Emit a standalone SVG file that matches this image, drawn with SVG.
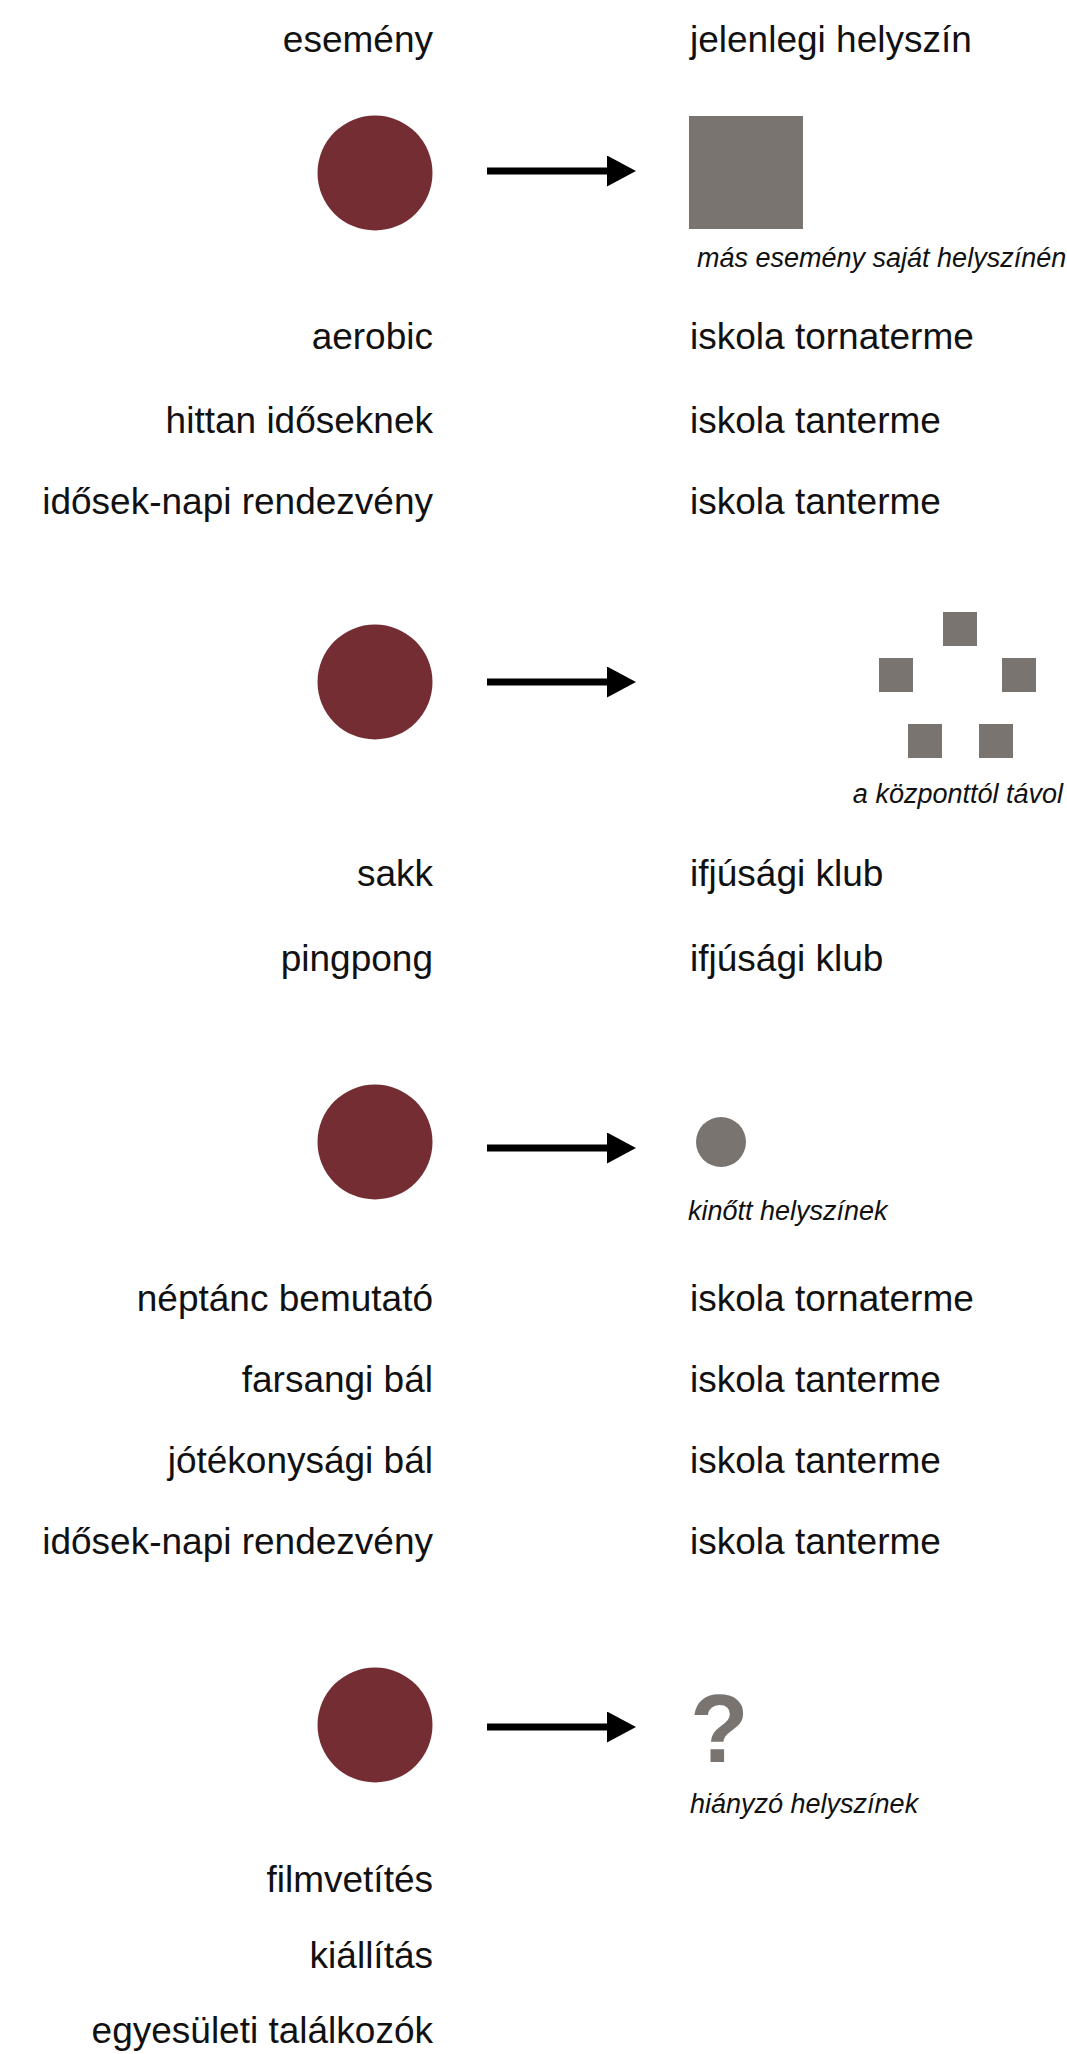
<svg xmlns="http://www.w3.org/2000/svg" width="1067" height="2054" viewBox="0 0 1067 2054">
<style>
.t{font-family:"Liberation Sans",Arial,sans-serif;font-size:37px;fill:#111}
.l{text-anchor:end}
.c{font-family:"Liberation Sans",Arial,sans-serif;font-size:27px;font-style:italic;fill:#111}
.ev{fill:#742e33}
.pl{fill:#7a7471}
.ar{stroke:#000;stroke-width:7;fill:none}
</style>
<defs>
<marker id="ah" viewBox="0 0 29 31" refX="0" refY="15.5" markerWidth="29" markerHeight="31" markerUnits="userSpaceOnUse" orient="auto">
<path d="M0,0 L29,15.5 L0,31 z" fill="#000"/>
</marker>
</defs>
<rect width="1067" height="2054" fill="#fff"/>
<g id="headers">
<text class="t l" x="433" y="52">esemény</text>
<text class="t" x="690" y="52">jelenlegi helyszín</text>
</g>
<g id="connectors">
<line class="ar" x1="487" y1="171" x2="607" y2="171" marker-end="url(#ah)"/>
<line class="ar" x1="487" y1="682" x2="607" y2="682" marker-end="url(#ah)"/>
<line class="ar" x1="487" y1="1148" x2="607" y2="1148" marker-end="url(#ah)"/>
<line class="ar" x1="487" y1="1727" x2="607" y2="1727" marker-end="url(#ah)"/>
</g>
<g id="section1">
<g id="event1"><circle class="ev" cx="375" cy="173" r="57.5"/></g>
<g id="place1"><rect class="pl" x="689" y="116" width="114" height="113"/>
<text class="c" x="697" y="267">más esemény saját helyszínén</text></g>
<text class="t l" x="433" y="349">aerobic</text>
<text class="t" x="690" y="349">iskola tornaterme</text>
<text class="t l" x="433" y="433">hittan időseknek</text>
<text class="t" x="690" y="433">iskola tanterme</text>
<text class="t l" x="433" y="514">idősek-napi rendezvény</text>
<text class="t" x="690" y="514">iskola tanterme</text>
</g>
<g id="section2">
<g id="event2"><circle class="ev" cx="375" cy="682" r="57.5"/></g>
<g id="place2">
<rect class="pl" x="943" y="612" width="34" height="34"/>
<rect class="pl" x="879" y="658" width="34" height="34"/>
<rect class="pl" x="1002" y="658" width="34" height="34"/>
<rect class="pl" x="908" y="724" width="34" height="34"/>
<rect class="pl" x="979" y="724" width="34" height="34"/>
<text class="c" x="1063" y="803" text-anchor="end">a központtól távol</text></g>
<text class="t l" x="433" y="886">sakk</text>
<text class="t" x="690" y="886">ifjúsági klub</text>
<text class="t l" x="433" y="971">pingpong</text>
<text class="t" x="690" y="971">ifjúsági klub</text>
</g>
<g id="section3">
<g id="event3"><circle class="ev" cx="375" cy="1142" r="57.5"/></g>
<g id="place3"><circle class="pl" cx="721" cy="1142" r="25"/>
<text class="c" x="688" y="1220">kinőtt helyszínek</text></g>
<text class="t l" x="433" y="1311">néptánc bemutató</text>
<text class="t" x="690" y="1311">iskola tornaterme</text>
<text class="t l" x="433" y="1392">farsangi bál</text>
<text class="t" x="690" y="1392">iskola tanterme</text>
<text class="t l" x="433" y="1473">jótékonysági bál</text>
<text class="t" x="690" y="1473">iskola tanterme</text>
<text class="t l" x="433" y="1554">idősek-napi rendezvény</text>
<text class="t" x="690" y="1554">iskola tanterme</text>
</g>
<g id="section4">
<g id="event4"><circle class="ev" cx="375" cy="1725" r="57.5"/></g>
<g id="place4"><text x="690" y="1762" style="font-family:'Liberation Sans',Arial,sans-serif;font-size:96px;font-weight:bold;fill:#7a7471">?</text>
<text class="c" x="690" y="1813">hiányzó helyszínek</text></g>
<text class="t l" x="433" y="1892">filmvetítés</text>
<text class="t l" x="433" y="1968">kiállítás</text>
<text class="t l" x="433" y="2043">egyesületi találkozók</text>
</g>
</svg>
